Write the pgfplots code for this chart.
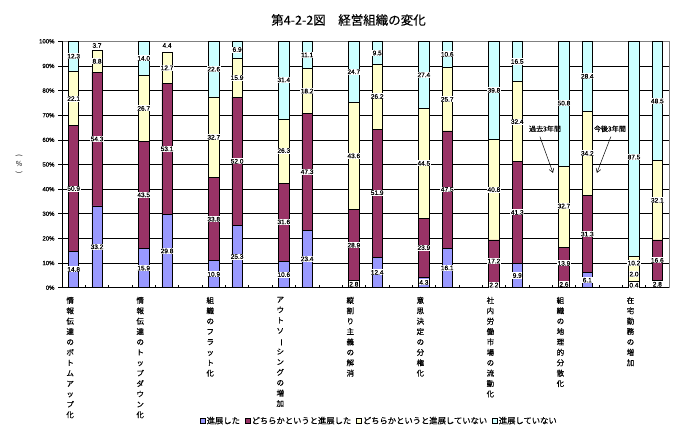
\documentclass[border=0pt]{standalone}
\usepackage{fontspec}
\setmainfont{Liberation Sans}
\newfontfamily\jp{Noto Sans CJK JP}
\newfontfamily\jpb[FakeBold=0.5]{Noto Sans CJK JP}
\newfontfamily\jpm[FakeBold=0.25]{Noto Sans CJK JP}
\newfontfamily\numf[FakeBold=0.6]{Liberation Sans}
\usepackage{graphicx}
\usepackage{pgfplots}
\pgfplotsset{compat=1.18}
\usepackage{pgfplotstable}
\usetikzlibrary{arrows.meta}
\definecolor{cA}{HTML}{9999FF}
\definecolor{cB}{HTML}{993366}
\definecolor{cC}{HTML}{FFFFCC}
\definecolor{cD}{HTML}{CCFFFF}
\newcommand{\vl}{\rotatebox[origin=c]{-90}{ー}}

\pgfplotstableread{
x a b c d
0 14.8 50.9 22.1 12.3
1 33.2 54.3 8.8 0
3 15.9 43.5 26.7 14.0
4 29.8 53.1 12.7 0
6 10.9 33.8 32.7 22.6
7 25.3 52.0 15.9 6.9
9 10.6 31.6 26.3 31.4
10 23.4 47.3 18.2 11.1
12 2.8 28.9 43.6 24.7
13 12.4 51.9 26.2 9.5
15 4.3 23.9 44.5 27.4
16 16.1 47.5 25.7 10.6
18 2.2 17.2 40.8 39.8
19 9.9 41.3 32.4 16.5
21 2.6 13.9 32.7 50.8
22 6.1 31.3 34.2 28.4
24 0.4 2.0 10.2 87.5
25 2.8 16.6 32.1 48.5
}\bars

\pgfplotstableread{
x y t
0 7.4 14.8
0 40.25 50.9
0 76.75 22.1
0 93.95 12.3
1 16.6 33.2
1 60.35 54.3
1 91.9 8.8
1 98.3 3.7
3 7.95 15.9
3 37.65 43.5
3 72.75 26.7
3 93.05 14.0
4 14.9 29.8
4 56.35 53.1
4 89.25 12.7
4 98.3 4.4
6 5.45 10.9
6 27.8 33.8
6 61.05 32.7
6 88.7 22.6
7 12.65 25.3
7 51.3 52.0
7 85.25 15.9
7 96.65 6.9
9 5.3 10.6
9 26.7 31.6
9 55.65 26.3
9 84.35 31.4
10 11.7 23.4
10 47.05 47.3
10 79.8 18.2
10 94.45 11.1
12 1.4 2.8
12 17.25 28.9
12 53.5 43.6
12 87.65 24.7
13 6.2 12.4
13 38.55 51.9
13 77.6 26.2
13 95.25 9.5
15 2.15 4.3
15 16.25 23.9
15 50.45 44.5
15 86.4 27.4
16 8.05 16.1
16 39.85 47.5
16 76.45 25.7
16 94.7 10.6
18 1.1 2.2
18 10.8 17.2
18 39.8 40.8
18 80.1 39.8
19 4.95 9.9
19 30.55 41.3
19 67.4 32.4
19 91.8 16.5
21 1.3 2.6
21 9.85 13.9
21 33.15 32.7
21 74.9 50.8
22 3.05 6.1
22 21.75 31.3
22 54.5 34.2
22 85.8 28.4
24 1.0 0.4
24 5.5 2.0
24 10.0 10.2
24 53 87.5
25 1.4 2.8
25 11.1 16.6
25 35.45 32.1
25 75.75 48.5
}\labels

\pgfplotsset{
  mybar/.style={fill=#1, draw=black, line width=0.7pt,
    legend image code/.code={\draw[fill=#1,draw=black,line width=0.5pt] (0pt,-2.6pt) rectangle (5.2pt,2.6pt);}},
  common/.style={at={(62pt,145.3pt)}, anchor=south west, scale only axis,
    width=607pt, height=246.4pt, xmin=-0.5, xmax=25.5, ymin=0, ymax=100},
}

\begin{document}
\begin{tikzpicture}
\useasboundingbox (0,0) rectangle (695pt,433pt);
\node[font=\jpm\fontsize{12.5}{14}\selectfont] at (348.5pt,413pt) {第4-2-2図　経営組織の変化};
\node[font=\jp\fontsize{7}{7.5}\selectfont, align=center, inner sep=0pt] at (19pt,268pt)
  {\rotatebox[origin=c]{-90}{(}\\[1pt]\%\\[1pt]\rotatebox[origin=c]{-90}{)}};

\begin{axis}[common,
  ybar stacked, bar width=10.3pt,
  ytick={0,10,...,100},
  yticklabel={\pgfmathprintnumber{\tick}\%},
  yticklabel style={font=\numf\fontsize{6}{7}\selectfont, /pgf/number format/assume math mode=true},
  ymajorgrids, grid style={black, line width=0.7pt},
  xtick={0,3,...,24},
  xticklabels={
    {情\\報\\伝\\達\\の\\ボ\\ト\\ム\\ア\\ッ\\プ\\化},
    {情\\報\\伝\\達\\の\\ト\\ッ\\プ\\ダ\\ウ\\ン\\化},
    {組\\織\\の\\フ\\ラ\\ッ\\ト\\化},
    {ア\\ウ\\ト\\ソ\\\vl\\シ\\ン\\グ\\の\\増\\加},
    {縦\\割\\り\\主\\義\\の\\解\\消},
    {意\\思\\決\\定\\の\\分\\権\\化},
    {社\\内\\労\\働\\市\\場\\の\\流\\動\\化},
    {組\\織\\の\\地\\理\\的\\分\\散\\化},
    {在\\宅\\勤\\務\\の\\増\\加}},
  xticklabel style={font=\jpb\fontsize{7.5}{10.4}\selectfont, align=center, anchor=north, inner sep=0pt, yshift=-5pt, xshift=-3.5pt},
  minor xtick={0.5,1.5,...,24.5},
  xtick pos=bottom, ytick pos=left,
  tick align=outside, major tick length=4pt, minor tick length=3pt,
  tick style={black, line width=0.6pt},
  major x tick style={draw=none},
  minor x tick style={yshift=3pt},
  axis line style={draw=gray, line width=0.7pt},
  after end axis/.code={
    \draw[black, line width=0.8pt] (rel axis cs:0,0) -- (rel axis cs:0,1);
    \draw[black, line width=0.8pt] (rel axis cs:0,0) -- (rel axis cs:1,0);
  },
  legend columns=4,
  legend style={at={(0.522,-0.541)}, anchor=center, draw=none, fill=none,
    font=\jpm\fontsize{8.3}{9}\selectfont, nodes={inner sep=1pt},
    /tikz/every even column/.append style={column sep=4pt}},
]
\addplot[mybar=cA] table[x=x,y=a] {\bars};
\addplot[mybar=cB] table[x=x,y=b] {\bars};
\addplot[mybar=cC] table[x=x,y=c] {\bars};
\addplot[mybar=cD] table[x=x,y=d] {\bars};
\legend{進展した, どちらかというと進展した, どちらかというと進展していない, 進展していない}
\end{axis}

\begin{axis}[common, hide axis, clip=false]
\addplot[only marks, mark=none, point meta=explicit symbolic, nodes near coords,
  every node near coord/.append style={anchor=center, fill=white, inner sep=0.7pt,
    font=\numf\fontsize{6.5}{7}\selectfont}]
  table[x=x, y=y, meta=t] {\labels};
\node[font=\jpb\fontsize{7}{8}\selectfont] at (axis cs:20.19,64.5) {過去3年間};
\node[font=\jpb\fontsize{7}{8}\selectfont] at (axis cs:22.97,64.5) {今後3年間};
\draw[-{Straight Barb[length=4pt,width=5pt]}, line width=0.5pt] (axis cs:19.97,61.3) -- (axis cs:20.53,46.6);
\draw[-{Straight Barb[length=4pt,width=5pt]}, line width=0.5pt] (axis cs:23.01,61.3) -- (axis cs:22.41,46.6);
\end{axis}
\end{tikzpicture}
\end{document}
